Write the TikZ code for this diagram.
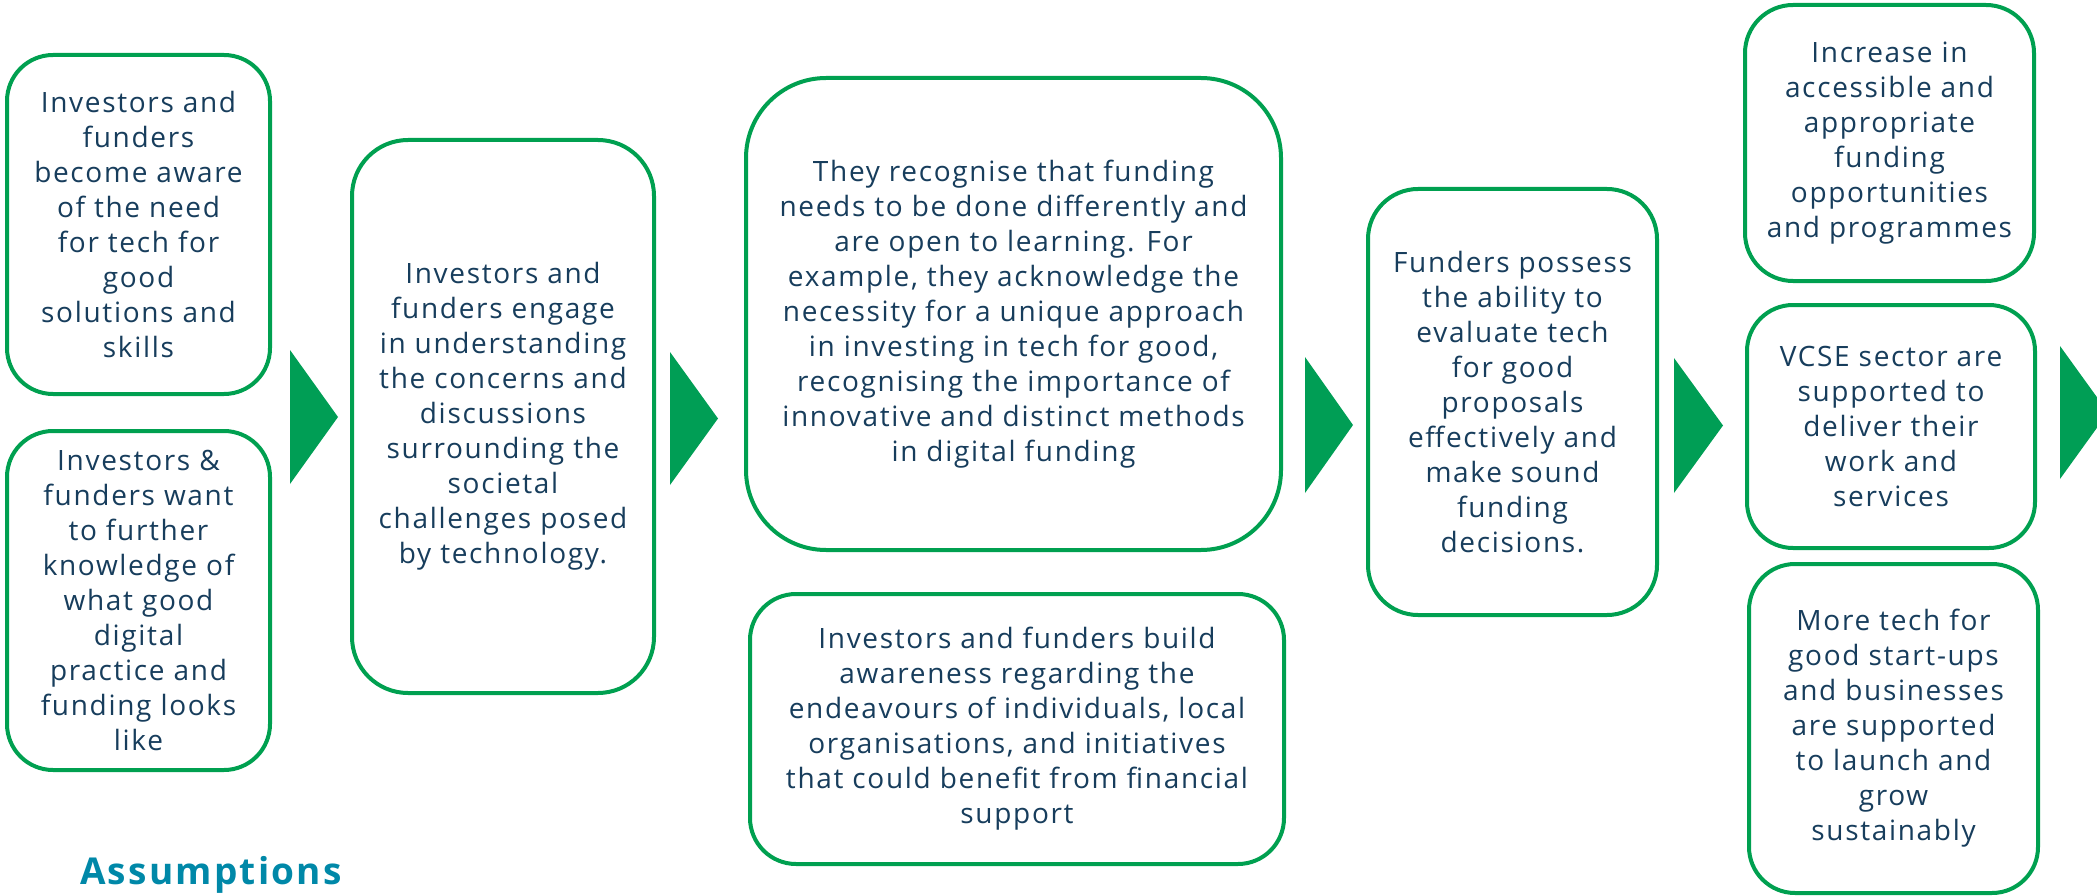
\documentclass[tikz,border=0pt]{standalone}
\usepackage{fontspec}
\setmainfont[LetterSpace=6]{Open Sans}
\usepackage{xcolor}
\definecolor{boxgreen}{HTML}{00A050}
\definecolor{arrowgreen}{HTML}{009E55}
\definecolor{textnavy}{HTML}{173D5C}
\definecolor{headteal}{HTML}{0088A8}
\usetikzlibrary{positioning}

\begin{document}
\begin{tikzpicture}[x=1pt, y=-1pt,
    every node/.style={align=center, text=textnavy, font=\fontsize{28}{35}\selectfont},
    outcome/.style={draw=boxgreen, line width=4pt, fill=white, inner sep=0pt},
    tri/.style={fill=arrowgreen}]

    \useasboundingbox (0,0) rectangle (2097,896);
    \clip (0,0) rectangle (2097,896);

    % Nodes
    \node[outcome, rounded corners=46pt, minimum width=263pt, minimum height=339pt] (aware) at (138.5,224.5)
        {Investors and\\funders\\become aware\\of the need\\for tech for\\good\\solutions and\\skills};
    \node[outcome, rounded corners=46pt, minimum width=263pt, minimum height=339pt] (knowledge) at (138.5,600.5)
        {Investors \&\\funders want\\to further\\knowledge of\\what good\\digital\\practice and\\funding looks\\like};
    \node[outcome, rounded corners=56pt, minimum width=302pt, minimum height=553pt] (engage) at (503,416.5)
        {Investors and\\funders engage\\in understanding\\the concerns and\\discussions\\surrounding the\\societal\\challenges posed\\by technology.};
    \node[outcome, rounded corners=80pt, minimum width=535pt, minimum height=472pt] (recognise) at (1013.5,314)
        {They recognise that funding\\needs to be done differently and\\are open to learning. For\\example, they acknowledge the\\necessity for a unique approach\\in investing in tech for good,\\recognising the importance of\\innovative and distinct methods\\in digital funding};
    \node[outcome, rounded corners=46pt, minimum width=534pt, minimum height=270pt] (build) at (1017,729)
        {Investors and funders build\\awareness regarding the\\endeavours of individuals, local\\organisations, and initiatives\\that could benefit from financial\\support};
    \node[outcome, rounded corners=50pt, minimum width=289pt, minimum height=426pt] (evaluate) at (1512.5,402)
        {Funders possess\\the ability to\\evaluate tech\\for good\\proposals\\effectively and\\make sound\\funding\\decisions.};
    \node[outcome, rounded corners=48pt, minimum width=289pt, minimum height=276pt] (access) at (1889.5,143)
        {Increase in\\accessible and\\appropriate\\funding\\opportunities\\and programmes};
    \node[outcome, rounded corners=46pt, minimum width=288pt, minimum height=243pt] (vcse) at (1891,426.5)
        {VCSE sector are\\supported to\\deliver their\\work and\\services};
    \node[outcome, rounded corners=46pt, minimum width=289pt, minimum height=329pt] (startups) at (1893.5,728.5)
        {More tech for\\good start-ups\\and businesses\\are supported\\to launch and\\grow\\sustainably};

    % Arrows
    \fill[tri] (290,350) -- (338,417) -- (290,484) -- cycle;
    \fill[tri] (670,352) -- (718,418.5) -- (670,485) -- cycle;
    \fill[tri] (1305,357) -- (1353,425) -- (1305,493) -- cycle;
    \fill[tri] (1674,358) -- (1723,425.5) -- (1674,493) -- cycle;
    \fill[tri] (2060,346) -- (2108,412.5) -- (2060,479) -- cycle;

    % Label
    \node[anchor=base west, inner sep=0pt, text=headteal, font=\fontsize{37}{44}\selectfont\bfseries] (assumptions) at (80,884) {Assumptions};
\end{tikzpicture}
\end{document}
